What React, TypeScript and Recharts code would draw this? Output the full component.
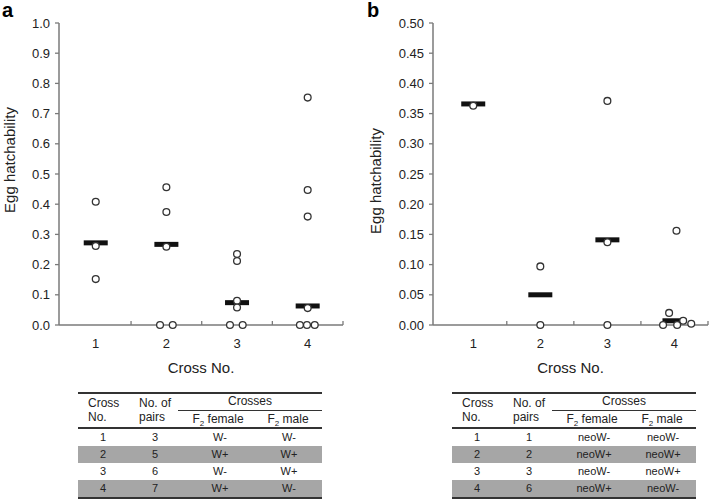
import React from 'react';
import { ScatterChart, Scatter, XAxis, YAxis } from 'recharts';

const crosses = [1, 2, 3, 4];
const xTicks = [1, 1.5, 2, 2.5, 3, 3.5, 4, 4.5];

// panel a – hatchability per pair, small x offsets so overlapping zeros stay visible
const hatchA = [
  [0.408, 0.262, 0.152],
  [0.456, 0.374, 0.259, 0, 0],
  [0.235, 0.212, 0.08, 0.058, 0, 0],
  [0.753, 0.447, 0.359, 0.056, 0, 0, 0],
];
const jitterA = [
  [0, 0, 0],
  [0, 0, 0, -0.09, 0.09],
  [0, 0, 0, 0, -0.1, 0.08],
  [0, 0, 0, 0, -0.11, -0.01, 0.1],
];
const meanA = [0.272, 0.267, 0.074, 0.063];
const yTicksA = [0, 0.1, 0.2, 0.3, 0.4, 0.5, 0.6, 0.7, 0.8, 0.9, 1.0];

// panel b
const hatchB = [
  [0.363],
  [0.097, 0],
  [0.371, 0.137, 0],
  [0.156, 0.02, 0.007, 0.002, 0, 0],
];
const jitterB = [
  [0],
  [0, 0],
  [0, 0, 0],
  [0.03, -0.08, 0.13, 0.25, -0.17, 0.04],
];
const meanB = [0.366, 0.05, 0.141, 0.007];
const yTicksB = [0, 0.05, 0.1, 0.15, 0.2, 0.25, 0.3, 0.35, 0.4, 0.45, 0.5];

// tables
const crossNo = ['1', '2', '3', '4'];
const pairsA = ['3', '5', '6', '7'];
const femaleA = ['W-', 'W+', 'W-', 'W+'];
const maleA = ['W-', 'W+', 'W+', 'W-'];
const pairsB = ['1', '2', '3', '6'];
const femaleB = ['neoW-', 'neoW+', 'neoW-', 'neoW+'];
const maleB = ['neoW-', 'neoW+', 'neoW+', 'neoW-'];

const font = '"Liberation Sans", Arial, sans-serif';
const axisGray = '#7a7a7a';
const textDark = '#222';

function buildPoints(values: number[][], jitter: number[][]) {
  const out: { x: number; y: number }[] = [];
  values.forEach((vals, i) =>
    vals.forEach((v, j) => out.push({ x: crosses[i] + jitter[i][j], y: v }))
  );
  return out;
}

const XTick = (props: any) => {
  const { x, y, payload } = props;
  const v = payload.value;
  if (Number.isInteger(v)) {
    return (
      <text x={x} y={y + 23} textAnchor="middle" fontSize={13} fill={textDark}>
        {v}
      </text>
    );
  }
  return <line x1={x} x2={x} y1={y} y2={y - 4} stroke={axisGray} strokeWidth={1.3} />;
};

const Dot = (props: any) => (
  <circle cx={props.cx} cy={props.cy} r={3.4} fill="#fff" stroke="#333" strokeWidth={1.3} />
);

const MeanBar = (props: any) => (
  <rect x={props.cx - 12} y={props.cy - 2.5} width={24} height={5} fill="#111" />
);

interface PanelProps {
  left: number;
  width: number;
  yAxisWidth: number;
  rightMargin: number;
  xDomain: [number, number];
  yDomain: [number, number];
  yTicks: number[];
  digits: number;
  points: { x: number; y: number }[];
  means: number[];
  yLabelX: number;
  yLabelY: number;
}

function Panel(p: PanelProps) {
  const meanData = p.means.map((m, i) => ({ x: crosses[i], y: m }));
  const plotCenter = p.yAxisWidth + (p.width - p.yAxisWidth - p.rightMargin) / 2;
  return (
    <div style={{ position: 'absolute', left: p.left, top: 0 }}>
      <ScatterChart width={p.width} height={390} margin={{ top: 23, right: p.rightMargin, bottom: 0, left: 0 }}>
        <XAxis
          type="number"
          dataKey="x"
          domain={p.xDomain}
          ticks={xTicks}
          interval={0}
          height={65}
          tickSize={0}
          tickMargin={0}
          tick={<XTick />}
          axisLine={{ stroke: axisGray, strokeWidth: 1.5 }}
          label={() => (
            <text x={plotCenter} y={372.5} textAnchor="middle" fontSize={15} fill={textDark}>
              Cross No.
            </text>
          )}
        />
        <YAxis
          type="number"
          dataKey="y"
          domain={p.yDomain}
          ticks={p.yTicks}
          interval={0}
          width={p.yAxisWidth}
          tickSize={4}
          tickMargin={5}
          tick={{ fontSize: 13, fill: textDark }}
          tickFormatter={(v: number) => v.toFixed(p.digits)}
          axisLine={{ stroke: axisGray, strokeWidth: 1.5 }}
          tickLine={{ stroke: axisGray, strokeWidth: 1.3 }}
          label={() => (
            <text
              x={p.yLabelX}
              y={p.yLabelY}
              transform={`rotate(-90, ${p.yLabelX}, ${p.yLabelY})`}
              textAnchor="middle"
              fontSize={15}
              fill={textDark}
            >
              Egg hatchability
            </text>
          )}
        />
        <Scatter data={meanData} shape={<MeanBar />} isAnimationActive={false} />
        <Scatter data={p.points} shape={<Dot />} isAnimationActive={false} />
      </ScatterChart>
    </div>
  );
}

function CrossTable({ left, pairs, female, male }: { left: number; pairs: string[]; female: string[]; male: string[] }) {
  const line = (top: number, h: number, l = 0, w = 244) => (
    <div style={{ position: 'absolute', left: left + l, top, width: w, height: h, background: '#333' }} />
  );
  const cell = (center: number, top: number, text: React.ReactNode, size = 11) => (
    <div
      style={{
        position: 'absolute',
        left: left + center - 40,
        top,
        width: 80,
        height: 17,
        lineHeight: '17px',
        textAlign: 'center',
        fontSize: size,
        color: textDark,
      }}
    >
      {text}
    </div>
  );
  const rowTops = [429, 446, 463, 480];
  return (
    <>
      <div style={{ position: 'absolute', left, top: 446, width: 244, height: 17, background: '#a6a6a6' }} />
      <div style={{ position: 'absolute', left, top: 480, width: 244, height: 17, background: '#a6a6a6' }} />
      {line(392, 2)}
      {line(409.5, 1.5, 100, 144)}
      {line(427, 2)}
      {line(497, 2)}
      <div style={{ position: 'absolute', left: left + 10, top: 396, fontSize: 12, lineHeight: '14px', color: textDark }}>
        Cross
        <br />
        No.
      </div>
      <div style={{ position: 'absolute', left: left + 61, top: 396, fontSize: 12, lineHeight: '14px', color: textDark }}>
        No. of
        <br />
        pairs
      </div>
      {cell(172, 393, 'Crosses', 12)}
      {cell(140, 411, <span>F<sub style={{ fontSize: 8 }}>2</sub> female</span>, 12)}
      {cell(210, 411, <span>F<sub style={{ fontSize: 8 }}>2</sub> male</span>, 12)}
      {rowTops.map((t, i) => (
        <React.Fragment key={i}>
          {cell(25, t, crossNo[i])}
          {cell(77, t, pairs[i])}
          {cell(142, t, female[i])}
          {cell(211, t, male[i])}
        </React.Fragment>
      ))}
    </>
  );
}

export default function App() {
  const pointsA = buildPoints(hatchA, jitterA);
  const pointsB = buildPoints(hatchB, jitterB);
  return (
    <div
      style={{
        position: 'absolute',
        left: 0,
        top: 0,
        width: 712,
        height: 500,
        background: '#fff',
        fontFamily: font,
        overflow: 'hidden',
      }}
    >
      <Panel
        left={0}
        width={360}
        yAxisWidth={59}
        rightMargin={17}
        xDomain={[0.48, 4.5]}
        yDomain={[0, 1]}
        yTicks={yTicksA}
        digits={1}
        points={pointsA}
        means={meanA}
        yLabelX={15}
        yLabelY={160}
      />
      <Panel
        left={360}
        width={352}
        yAxisWidth={73}
        rightMargin={4}
        xDomain={[0.4, 4.5]}
        yDomain={[0, 0.5]}
        yTicks={yTicksB}
        digits={2}
        points={pointsB}
        means={meanB}
        yLabelX={20.5}
        yLabelY={181}
      />
      <div style={{ position: 'absolute', left: 2, top: 0, fontSize: 20, lineHeight: '20px', fontWeight: 'bold' }}>a</div>
      <div style={{ position: 'absolute', left: 367, top: 0, fontSize: 20, lineHeight: '20px', fontWeight: 'bold' }}>b</div>
      <CrossTable left={78} pairs={pairsA} female={femaleA} male={maleA} />
      <CrossTable left={452} pairs={pairsB} female={femaleB} male={maleB} />
    </div>
  );
}
